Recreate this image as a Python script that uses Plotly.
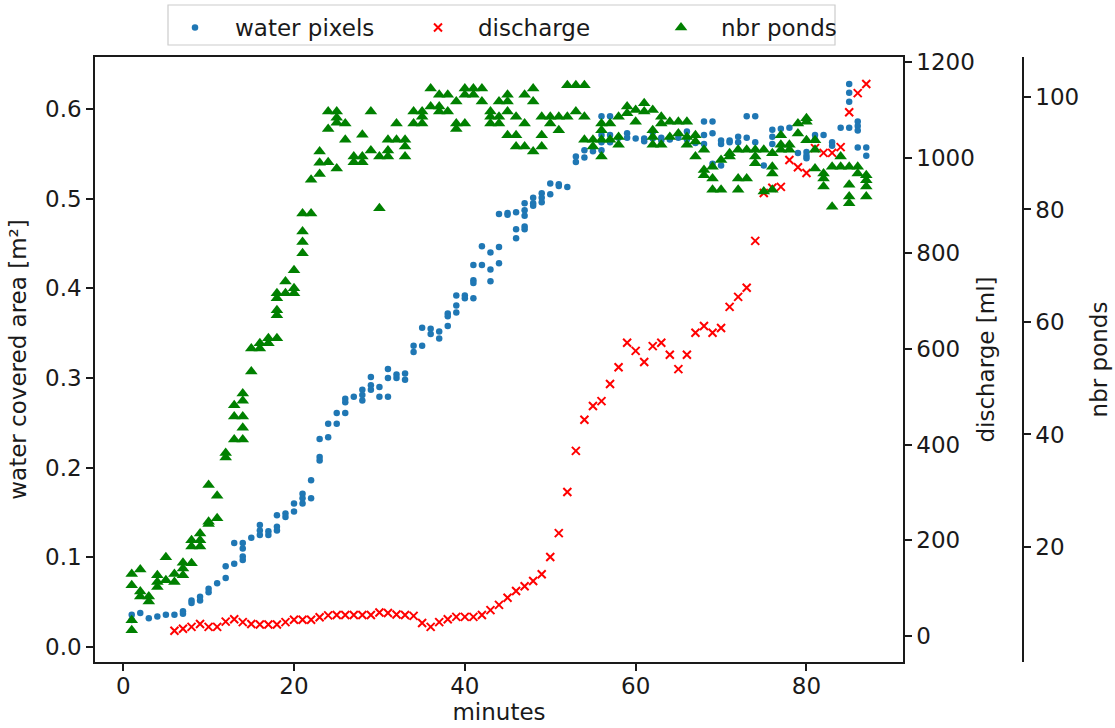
import plotly.graph_objects as go

# ---------------- data ----------------
minutes = list(range(1, 88))

# water covered area [m²], several samples per minute (minute 1 .. 87)
water_area = [
    [0.036, 0.030], [0.038], [0.032], [0.034], [0.036], [0.036],
    [0.040, 0.037], [0.052, 0.049], [0.056, 0.052], [0.065, 0.061],
    [0.071], [0.077, 0.090], [0.093, 0.116], [0.116, 0.110, 0.101, 0.097],
    [0.122], [0.136, 0.130, 0.125], [0.129, 0.125], [0.147, 0.134, 0.130],
    [0.149, 0.145], [0.160, 0.151], [0.171, 0.166, 0.160], [0.186, 0.166],
    [0.232, 0.212, 0.208], [0.249, 0.234], [0.261, 0.249],
    [0.277, 0.273, 0.261], [0.279], [0.287, 0.281, 0.275],
    [0.301, 0.292, 0.287], [0.290, 0.279], [0.310, 0.300, 0.279],
    [0.300, 0.304], [0.305, 0.298], [0.336, 0.329], [0.336, 0.356],
    [0.355, 0.349], [0.352, 0.344], [0.358, 0.372, 0.369],
    [0.392, 0.381, 0.373], [0.392, 0.389], [0.389, 0.426, 0.409, 0.406],
    [0.447, 0.426], [0.440, 0.421, 0.408], [0.483, 0.446, 0.428],
    [0.484, 0.482], [0.485, 0.466, 0.456], [0.495, 0.487, 0.481, 0.469, 0.466],
    [0.501, 0.495, 0.492], [0.506, 0.501, 0.496], [0.517, 0.505],
    [0.516, 0.514], [0.513], [0.547, 0.541], [0.554, 0.546], [0.553],
    [0.592, 0.571, 0.563, 0.554], [0.592, 0.571, 0.563], [0.568],
    [0.573, 0.568], [0.567], [0.567, 0.564], [0.574, 0.567], [0.568, 0.565],
    [0.566], [0.568], [0.575, 0.566], [0.562], [0.586, 0.571, 0.561],
    [0.586, 0.573, 0.539], [0.565, 0.561, 0.537], [0.565, 0.563],
    [0.569, 0.563], [0.592, 0.568], [0.592, 0.563], [0.537],
    [0.577, 0.569, 0.561], [0.578], [0.579], [0.551], [0.552, 0.548, 0.545],
    [0.571, 0.566], [0.571], [0.563, 0.559], [0.579],
    [0.628, 0.618, 0.608, 0.579], [0.586, 0.581, 0.576, 0.557], [0.557, 0.548],
]

# discharge [ml], one value per minute (minute 6 .. 87)
discharge_minutes = list(range(6, 88))
discharge_ml = [
    11, 15, 19, 25, 19, 19, 30, 35, 29, 25,
    24, 24, 24, 29, 34, 34, 34, 39, 43, 44,
    44, 44, 44, 44, 49, 48, 45, 44, 42, 27,
    19, 29, 35, 40, 40, 40, 44, 54, 65, 80,
    94, 104, 115, 129, 165, 215, 301, 387, 452, 481,
    491, 527, 562, 613, 596, 573, 606, 613, 588, 558,
    588, 634, 648, 634, 644, 688, 709, 728, 826, 926,
    937, 939, 995, 980, 968, 1020, 1010, 1010, 1022, 1095,
    1135, 1154,
]

# number of ponds, several samples per minute (minute 1 .. 87)
nbr_ponds = [
    [5.2, 7.0, 13.2, 15.2], [16.0, 12.1, 11.2], [11.2, 10.3],
    [15.0, 13.8, 12.9], [18.2, 14.1], [15.2, 13.8], [17.2, 16.2, 15.0],
    [17.1, 21.2, 20.1], [22.4, 21.2, 20.1], [31.0, 24.5, 24.1], [29.1, 25.1],
    [36.7, 35.9], [39.1, 43.2, 45.2], [39.1, 41.2, 43.2, 46.0, 47.3],
    [51.2, 55.3], [55.3, 56.2], [56.2, 57.1], [57.1, 61.2, 62.1, 64.2, 65.1],
    [65.1, 67.2], [65.1, 66.0, 69.2], [72.2, 74.2, 76.1, 79.3], [79.3, 85.3],
    [86.3, 88.3, 90.3], [88.4, 94.3, 97.4], [87.3, 95.4, 96.3, 97.4],
    [92.4, 95.3], [88.4, 89.4], [88.4, 89.4, 93.3], [90.5, 97.4], [80.2, 89.4],
    [89.4, 90.5, 92.4], [92.4, 95.3], [89.4, 91.2, 92.4], [95.3, 97.4],
    [95.3, 96.5, 97.4], [98.3, 101.5], [97.4, 98.3, 100.4], [97.4, 100.4],
    [94.3, 95.3, 99.2], [95.3, 100.4, 101.5], [100.4, 101.5], [99.2, 101.5],
    [95.3, 96.5, 97.4], [95.3, 96.5, 99.2], [93.2, 97.4, 99.2, 100.4],
    [91.2, 93.2, 96.5], [91.2, 95.3, 100.4], [90.3, 99.2, 101.5],
    [91.2, 93.2, 96.5], [95.3, 96.5], [94.1, 96.5], [96.5, 102.1],
    [97.4, 102.1], [92.4, 96.5, 102.1], [91.2, 92.4], [89.4, 92.4, 94.1, 95.3],
    [92.4, 95.3], [91.5, 92.9, 96.5], [97.1, 98.3], [95.6, 97.7], [97.4, 98.9],
    [91.5, 92.9, 94.1, 97.7], [91.5, 95.3, 96.5], [92.9, 95.6], [93.5, 95.6],
    [91.5, 92.9, 95.6], [89.4, 92.1, 93.2], [86.1, 87.0, 90.6],
    [83.5, 85.5, 87.6], [83.5, 88.8], [89.4, 90.0], [83.5, 85.5, 90.6],
    [85.5, 90.6], [88.2, 89.4, 90.6], [83.2, 90.6], [83.5, 86.4, 87.6, 90.0],
    [90.6, 91.5, 93.2], [90.6, 91.5], [93.5, 95.3], [92.3, 95.6, 96.2],
    [87.3, 90.6, 92.3], [84.1, 85.5, 86.4], [80.5, 87.6], [87.6, 89.4],
    [81.1, 82.3, 84.4, 87.6], [86.4, 87.6], [82.3, 84.1, 85.2, 86.1],
]

x_ticks = [0, 20, 40, 60, 80]
area_ticks = [0.0, 0.1, 0.2, 0.3, 0.4, 0.5, 0.6]
discharge_ticks = [0, 200, 400, 600, 800, 1000, 1200]
ponds_ticks = [20, 40, 60, 80, 100]


def flatten(xs, groups):
    fx, fy = [], []
    for x, vals in zip(xs, groups):
        for v in vals:
            fx.append(x)
            fy.append(v)
    return fx, fy


wx, wy = flatten(minutes, water_area)
px_, py_ = flatten(minutes, nbr_ponds)

TXT = "#1a1a1a"
FONT = "DejaVu Sans"
FS = 23

# plot area in pixels: left 95, right 903, top 57, bottom 662; free axis at 1023
W, H = 1115, 728
L, R, T, B = 95, 92, 57, 66
PW, PH = W - L - R, H - T - B


def xp(px):
    return (px - L) / PW


def yp(py):
    return 1 + (T - py) / PH


fig = go.Figure()
fig.add_trace(go.Scatter(
    x=wx, y=wy, mode="markers", name="water pixels", yaxis="y",
    marker=dict(symbol="circle", size=6.5, color="#1f77b4"),
))
fig.add_trace(go.Scatter(
    x=discharge_minutes, y=discharge_ml, mode="markers", name="discharge",
    yaxis="y2",
    marker=dict(symbol="x-thin", size=8, color="red",
                line=dict(color="red", width=2)),
))
fig.add_trace(go.Scatter(
    x=px_, y=py_, mode="markers", name="nbr ponds", yaxis="y3",
    marker=dict(symbol="triangle-up", size=11, color="green"),
))

axis_common = dict(
    ticks="outside", ticklen=7, tickwidth=1.5, tickcolor=TXT,
    showline=True, linecolor=TXT, linewidth=1.5,
    showgrid=False, zeroline=False,
    tickfont=dict(family=FONT, size=FS, color=TXT),
)

fig.update_layout(
    width=W, height=H,
    margin=dict(l=L, r=R, t=T, b=B, autoexpand=False),
    paper_bgcolor="white", plot_bgcolor="white",
    font=dict(family=FONT, size=FS, color=TXT),
    showlegend=True,
    xaxis=dict(
        domain=[0, (903 - L) / PW], range=[-3.3, 91.3], tickvals=x_ticks,
        mirror=True, ticklabelstandoff=-4,
        title=dict(text="minutes", standoff=4,
                   font=dict(family=FONT, size=FS, color=TXT)),
        **axis_common,
    ),
    yaxis=dict(
        range=[-0.0167, 0.658], tickvals=area_ticks, tickformat=".1f",
        title=dict(text="water covered area [m²]", standoff=12,
                   font=dict(family=FONT, size=FS, color=TXT)),
        **axis_common,
    ),
    yaxis2=dict(
        overlaying="y", side="right", anchor="x",
        range=[-54.4, 1210.5], tickvals=discharge_ticks,
        title=dict(text="discharge [ml]", standoff=4,
                   font=dict(family=FONT, size=FS, color=TXT)),
        **axis_common,
    ),
    yaxis3=dict(
        overlaying="y", side="right", anchor="free", position=1.0,
        range=[-0.44, 107.1], tickvals=ponds_ticks,
        title=dict(text="nbr ponds", standoff=12,
                   font=dict(family=FONT, size=FS, color=TXT)),
        **axis_common,
    ),
    legend=dict(
        orientation="h", x=xp(155), xanchor="left", y=yp(6), yanchor="top",
        borderwidth=0, bgcolor="rgba(0,0,0,0)",
        font=dict(family=FONT, size=FS, color=TXT),
        itemwidth=70, entrywidth=158, entrywidthmode="pixels",
    ),
    shapes=[dict(
        type="rect", xref="paper", yref="paper",
        x0=xp(168), x1=xp(835), y0=yp(45), y1=yp(5),
        line=dict(color="#cccccc", width=1.2), fillcolor="white",
        layer="below",
    )],
)

fig.write_html("out.html")
